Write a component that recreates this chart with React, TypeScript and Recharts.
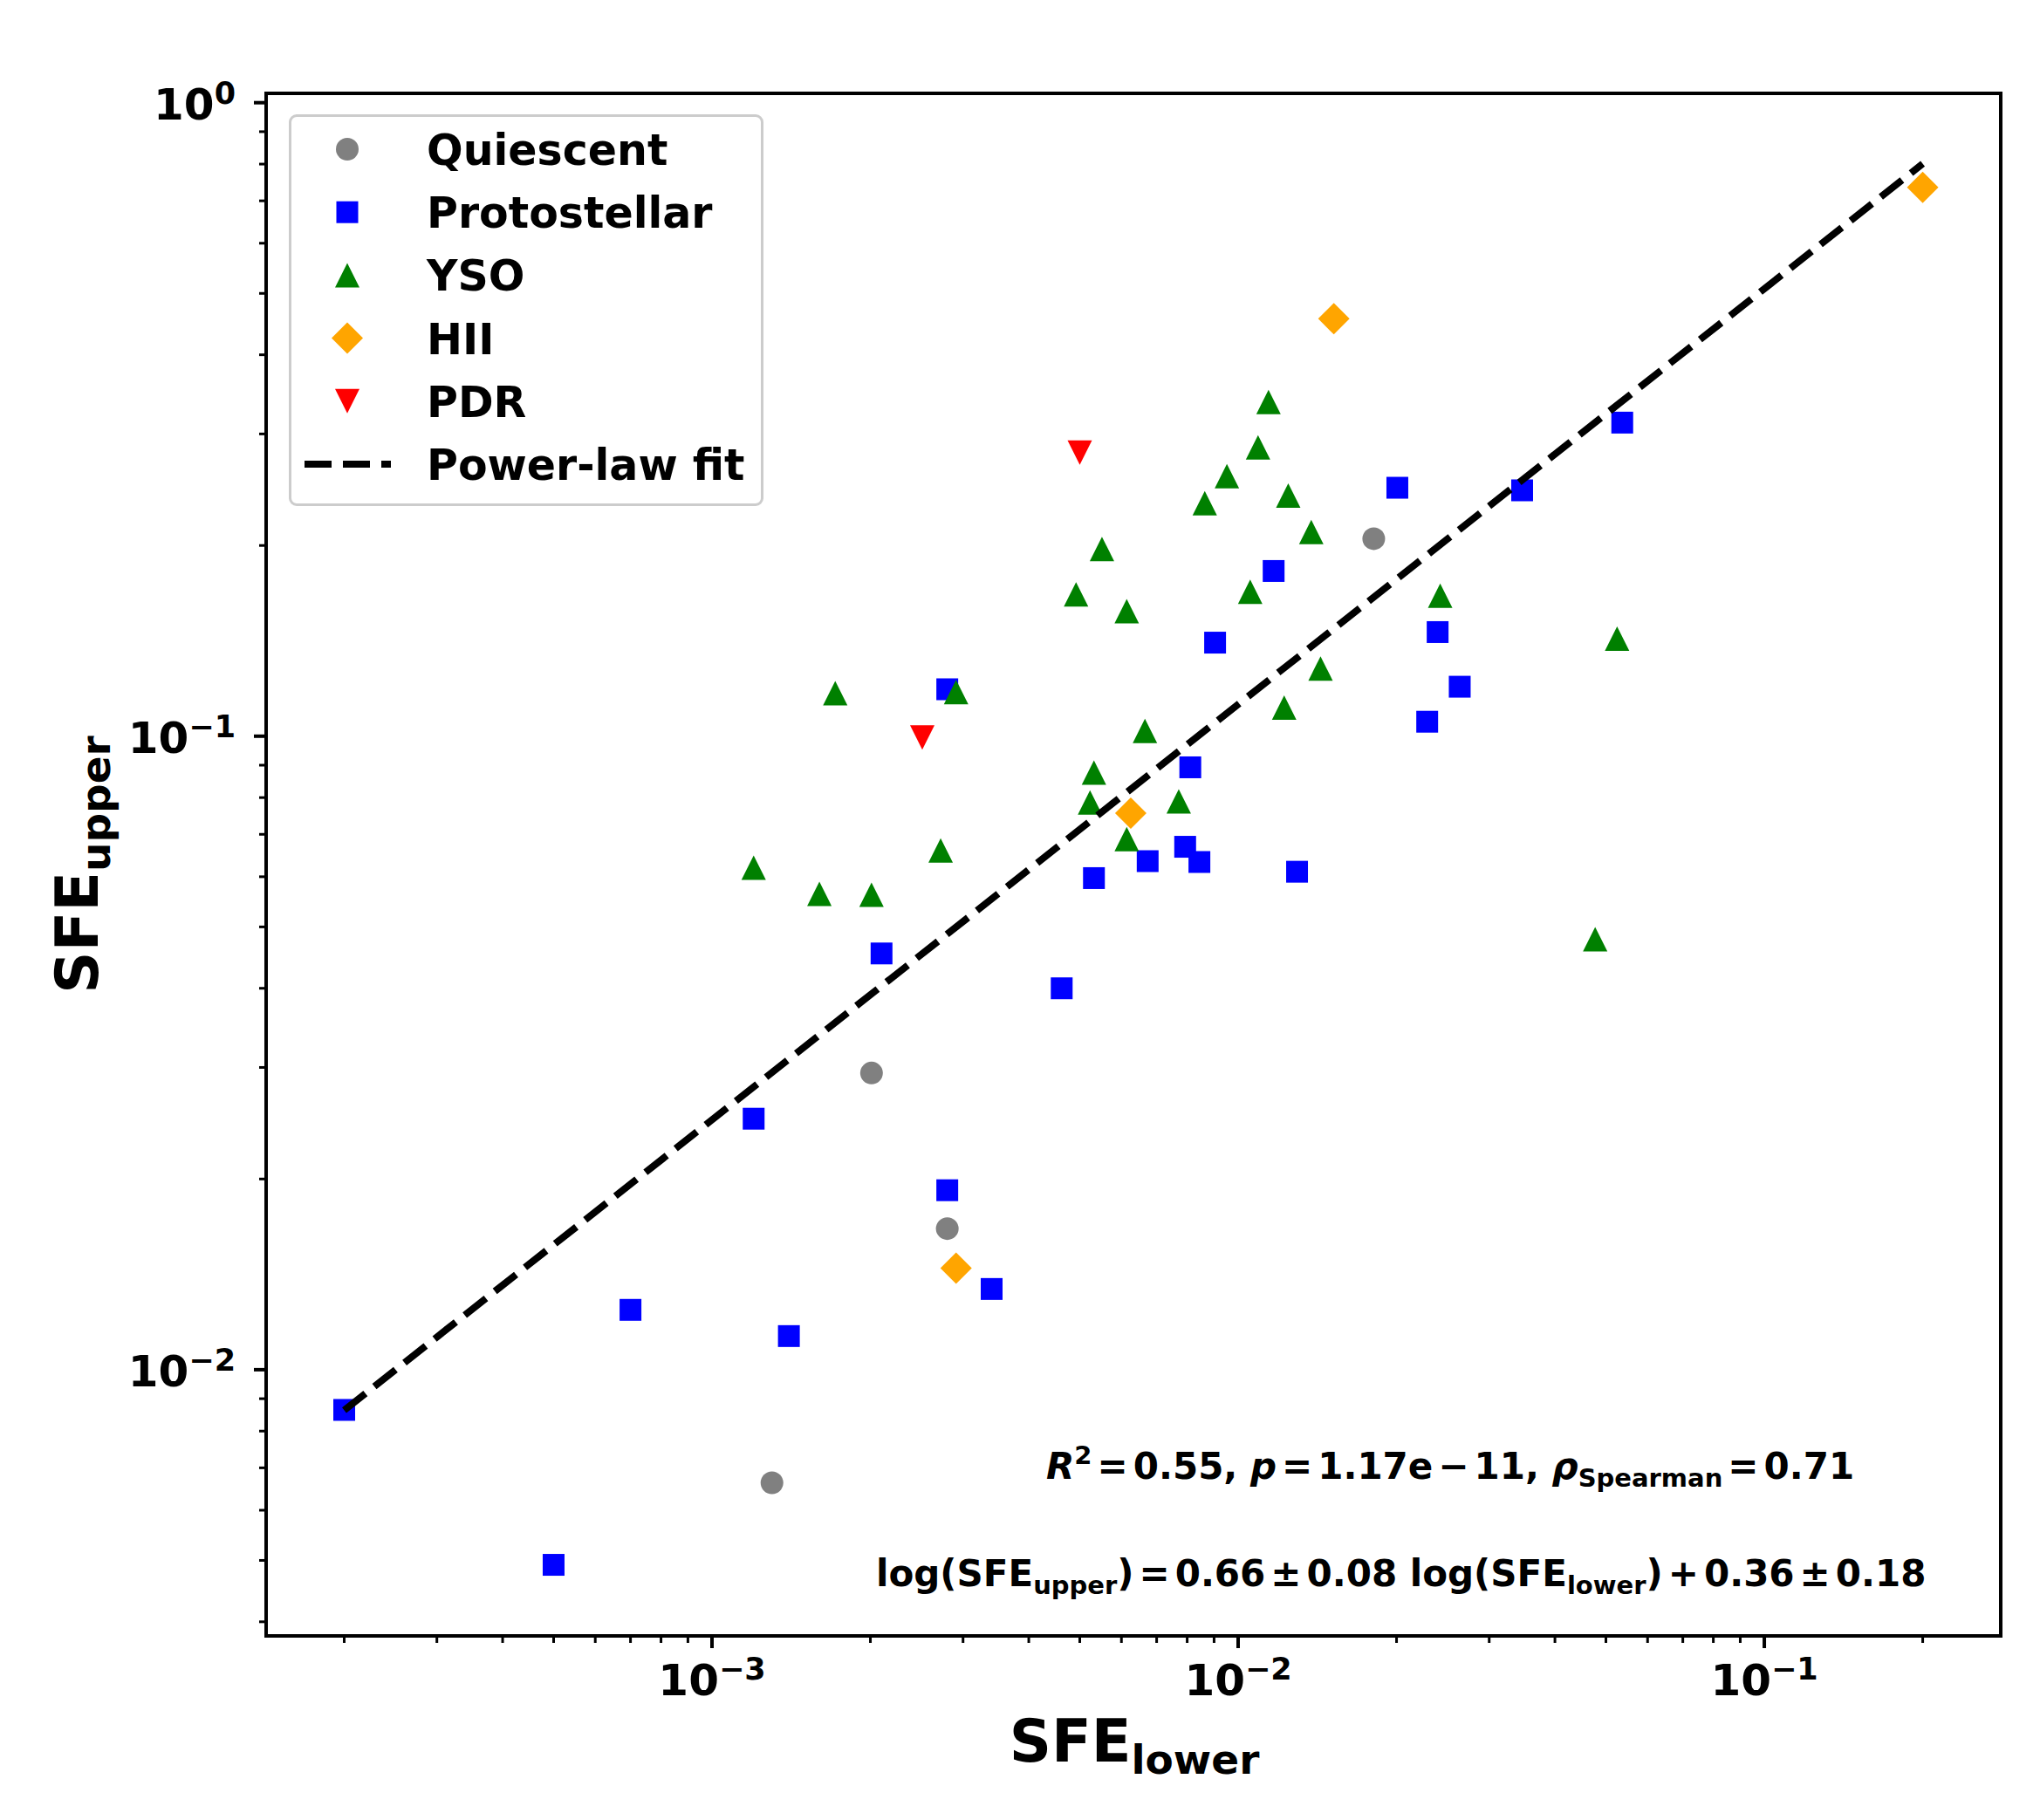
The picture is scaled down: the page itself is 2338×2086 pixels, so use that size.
import { ReferenceArea, Scatter, ScatterChart, XAxis, YAxis } from "recharts";

// SFE_lower (x) and SFE_upper (y) per class
const quiescentX = [0.0181, 0.00201, 0.0028, 0.0013];
const quiescentY = [0.205, 0.0294, 0.0167, 0.00663];

const protoX = [
  0.0002, 0.0005, 0.0007, 0.0014, 0.0012, 0.0021, 0.0028, 0.0034, 0.0028, 0.00462, 0.00532, 0.00673,
  0.00793, 0.00811, 0.00844, 0.00904, 0.01168, 0.01294, 0.02007, 0.02287, 0.02394, 0.02637, 0.03465, 0.0537,
];
const protoY = [
  0.00864, 0.00492, 0.01243, 0.0113, 0.0249, 0.0454, 0.0192, 0.01341, 0.1186, 0.04, 0.0597, 0.0635,
  0.0669, 0.0893, 0.0633, 0.1405, 0.1823, 0.0611, 0.2467, 0.1054, 0.146, 0.1197, 0.2444, 0.3126,
];

const ysoX = [
  0.0012, 0.0016, 0.001715, 0.00201, 0.00272, 0.00291, 0.00492, 0.00551, 0.00523, 0.00532, 0.00614, 0.00614, 0.00665,
  0.00771, 0.00864, 0.00952, 0.01054, 0.01091, 0.01142, 0.01223, 0.01245, 0.01377, 0.01434, 0.02421, 0.0477, 0.0525,
];
const ysoY = [
  0.062, 0.0564, 0.1169, 0.0562, 0.066, 0.1174, 0.1674, 0.1975, 0.0786, 0.0876, 0.1575, 0.0688, 0.1019,
  0.0789, 0.2332, 0.2574, 0.169, 0.2857, 0.337, 0.111, 0.2398, 0.2101, 0.1279, 0.1666, 0.0478, 0.1426,
];

const hiiX = [0.2, 0.0152, 0.00625, 0.00291];
const hiiY = [0.735, 0.456, 0.0756, 0.01446];

const pdrX = [0.005, 0.00251];
const pdrY = [0.2803, 0.0995];

// power-law fit end points
const fitX = [0.0002, 0.2];
const fitY = [0.00863, 0.801];

const xMajorTicks = [0.001, 0.01, 0.1];
const xMajorExp = ["\u22123", "\u22122", "\u22121"];
const xMinorTicks = [
  0.0002, 0.0003, 0.0004, 0.0005, 0.0006, 0.0007, 0.0008, 0.0009,
  0.002, 0.003, 0.004, 0.005, 0.006, 0.007, 0.008, 0.009,
  0.02, 0.03, 0.04, 0.05, 0.06, 0.07, 0.08, 0.09, 0.2,
];
const yMajorTicks = [0.01, 0.1, 1];
const yMajorExp = ["\u22122", "\u22121", "0"];
const yMinorTicks = [
  0.004, 0.005, 0.006, 0.007, 0.008, 0.009,
  0.02, 0.03, 0.04, 0.05, 0.06, 0.07, 0.08, 0.09,
  0.2, 0.3, 0.4, 0.5, 0.6, 0.7, 0.8, 0.9,
];

const X_DOMAIN: [number, number] = [1.421e-4, 0.2814];
const Y_DOMAIN: [number, number] = [0.0038, 1.0345];

const legendLabels = ["Quiescent", "Protostellar", "YSO", "HII", "PDR", "Power-law fit"];

const W = 2322;
const H = 2070;
const FONT = "'DejaVu Sans', sans-serif";
const G = 6; // gap around math operators

const pts = (xs: number[], ys: number[]) => xs.map((x, i) => ({ x, y: ys[i] }));

type Kind = "circle" | "square" | "tri" | "diamond" | "tridown";

function marker(kind: Kind, color: string, cx: number, cy: number) {
  switch (kind) {
    case "circle":
      return <circle cx={cx} cy={cy} r={13} fill={color} />;
    case "square":
      return <rect x={cx - 12.5} y={cy - 12.5} width={25} height={25} fill={color} />;
    case "tri":
      return <polygon points={`${cx},${cy - 14} ${cx - 14},${cy + 14} ${cx + 14},${cy + 14}`} fill={color} />;
    case "tridown":
      return <polygon points={`${cx},${cy + 14} ${cx - 14},${cy - 14} ${cx + 14},${cy - 14}`} fill={color} />;
    default:
      return <polygon points={`${cx},${cy - 18} ${cx + 18},${cy} ${cx},${cy + 18} ${cx - 18},${cy}`} fill={color} />;
  }
}

const shapeOf = (kind: Kind, color: string) => (p: any) => marker(kind, color, p.cx, p.cy);

const series: { kind: Kind; color: string; data: { x: number; y: number }[] }[] = [
  { kind: "circle", color: "#808080", data: pts(quiescentX, quiescentY) },
  { kind: "square", color: "#0000ff", data: pts(protoX, protoY) },
  { kind: "tri", color: "#008000", data: pts(ysoX, ysoY) },
  { kind: "diamond", color: "#ffa500", data: pts(hiiX, hiiY) },
  { kind: "tridown", color: "#ff0000", data: pts(pdrX, pdrY) },
];

function XTick(props: any) {
  const { x, y, payload } = props;
  const i = xMajorTicks.indexOf(payload.value);
  const major = i >= 0;
  return (
    <g>
      <line x1={x} x2={x} y1={y} y2={y + (major ? 14 : 8)} stroke="#000" strokeWidth={major ? 4 : 3} />
      {major && (
        <text x={x} y={y + 68} textAnchor="middle" fontSize={50} fontWeight="bold" fontFamily={FONT} fill="#000">
          10<tspan fontSize={35} dy={-18}>{xMajorExp[i]}</tspan>
        </text>
      )}
    </g>
  );
}

function YTick(props: any) {
  const { x, y, payload } = props;
  const i = yMajorTicks.indexOf(payload.value);
  const major = i >= 0;
  return (
    <g>
      <line x1={x} x2={x - (major ? 14 : 8)} y1={y} y2={y} stroke="#000" strokeWidth={major ? 4 : 3} />
      {major && (
        <text x={x - 35} y={y + 19} textAnchor="end" fontSize={50} fontWeight="bold" fontFamily={FONT} fill="#000">
          10<tspan fontSize={35} dy={-18}>{yMajorExp[i]}</tspan>
        </text>
      )}
    </g>
  );
}

function LegendBox() {
  const kinds: Kind[] = ["circle", "square", "tri", "diamond", "tridown"];
  return (
    <div
      style={{
        position: "absolute",
        left: 323,
        top: 123,
        width: 538,
        height: 443,
        border: "3px solid #cccccc",
        borderRadius: 9,
        background: "rgba(255,255,255,0.8)",
      }}
    >
      <svg width={538} height={443} style={{ position: "absolute", left: 0, top: 0 }}>
        {legendLabels.map((lab, i) => {
          const cy = 37 + i * 72.2;
          return (
            <g key={lab}>
              {i < 5 ? (
                marker(kinds[i], series[i].color, 64, cy)
              ) : (
                <line x1={15} x2={114} y1={cy} y2={cy} stroke="#000" strokeWidth={8} strokeDasharray="31 13" />
              )}
              <text x={155} y={cy + 18} fontSize={49} fontWeight="bold" fontFamily={FONT} fill="#000">
                {lab}
              </text>
            </g>
          );
        })}
      </svg>
    </div>
  );
}

function Overlay() {
  return (
    <svg width={W} height={H} style={{ position: "absolute", left: 0, top: 0, pointerEvents: "none" }}>
      <g fontFamily={FONT} fontWeight="bold" fill="#000" style={{ whiteSpace: "pre" }}>
        <text x={1292} y={2011} textAnchor="middle" fontSize={67}>
          SFE<tspan fontSize={47} dy={14}>lower</tspan>
        </text>
        <text transform="translate(104, 983) rotate(-90)" textAnchor="middle" fontSize={67}>
          SFE<tspan fontSize={47} dy={14}>upper</tspan>
        </text>
        <text x={1191} y={1687} fontSize={42}>
          <tspan fontStyle="italic">R</tspan>
          <tspan fontSize={29} dy={-17}>2</tspan>
          <tspan dy={17} dx={G}>=</tspan>
          <tspan dx={G}>{"0.55, "}</tspan>
          <tspan fontStyle="italic">p</tspan>
          <tspan dx={G}>=</tspan>
          <tspan dx={G}>1.17e</tspan>
          <tspan dx={G}>{"\u2212"}</tspan>
          <tspan dx={G}>{"11, "}</tspan>
          <tspan fontStyle="italic">{"\u03c1"}</tspan>
          <tspan fontSize={29} dy={9}>Spearman</tspan>
          <tspan dy={-9} dx={G}>=</tspan>
          <tspan dx={G}>0.71</tspan>
        </text>
        <text x={996} y={1810} fontSize={42}>
          <tspan>log(SFE</tspan>
          <tspan fontSize={29} dy={9}>upper</tspan>
          <tspan dy={-9}>)</tspan>
          <tspan dx={G}>=</tspan>
          <tspan dx={G}>0.66</tspan>
          <tspan dx={G}>{"\u00b1"}</tspan>
          <tspan dx={G}>{"0.08 log(SFE"}</tspan>
          <tspan fontSize={29} dy={9}>lower</tspan>
          <tspan dy={-9}>)</tspan>
          <tspan dx={G}>+</tspan>
          <tspan dx={G}>0.36</tspan>
          <tspan dx={G}>{"\u00b1"}</tspan>
          <tspan dx={G}>0.18</tspan>
        </text>
      </g>
    </svg>
  );
}

export default function App() {
  return (
    <div style={{ position: "relative", width: W, height: H, background: "#fff" }}>
      <ScatterChart width={W} height={H} margin={{ top: 99, right: 37, bottom: 83, left: 177 }}>
        <XAxis
          type="number"
          dataKey="x"
          scale="log"
          domain={X_DOMAIN}
          allowDataOverflow
          ticks={[...xMajorTicks, ...xMinorTicks]}
          interval={0}
          tick={<XTick />}
          tickLine={false}
          tickSize={0}
          tickMargin={0}
          axisLine={false}
          height={120}
        />
        <YAxis
          type="number"
          dataKey="y"
          scale="log"
          domain={Y_DOMAIN}
          allowDataOverflow
          ticks={[...yMajorTicks, ...yMinorTicks]}
          interval={0}
          tick={<YTick />}
          tickLine={false}
          tickSize={0}
          tickMargin={0}
          axisLine={false}
          width={120}
        />
        {series.map((s, i) => (
          <Scatter
            key={i}
            data={s.data}
            shape={shapeOf(s.kind, s.color)}
            isAnimationActive={false}
          />
        ))}
        <Scatter
          data={pts(fitX, fitY)}
          line={{ stroke: "#000", strokeWidth: 8, strokeDasharray: "31 13" }}
          lineType="joint"
          shape={() => <g />}
          isAnimationActive={false}
        />
        <ReferenceArea
          x1={X_DOMAIN[0]}
          x2={X_DOMAIN[1]}
          y1={Y_DOMAIN[0]}
          y2={Y_DOMAIN[1]}
          fill="none"
          stroke="#000"
          strokeWidth={4}
          ifOverflow="visible"
        />
      </ScatterChart>
      <LegendBox />
      <Overlay />
    </div>
  );
}
